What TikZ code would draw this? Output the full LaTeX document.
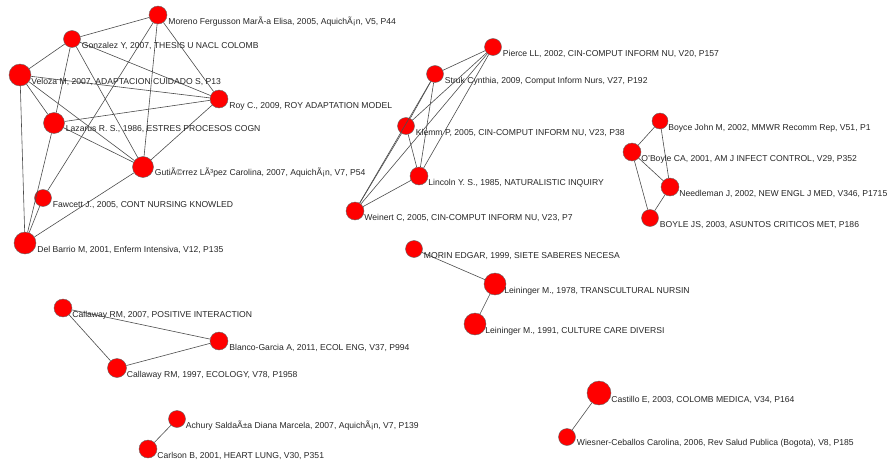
\documentclass[tikz,border=0pt]{standalone}
\usepackage{fontspec}
\setmainfont{Liberation Sans}
\usetikzlibrary{positioning}

\begin{document}
\begin{tikzpicture}[x=1pt,y=1pt,
	paper/.style={circle,fill=red,draw=black!60,line width=0.4pt,minimum size=18pt},
	lbl/.style={anchor=west,font=\fontsize{8.6}{10}\selectfont,text=black!85},
	tie/.style={draw=black!70,line width=0.6pt}]
	\tikzstyle{every node}+=[inner sep=0pt]
	\useasboundingbox (0,0) rectangle (892,-463);
	\node [paper] (moreno) at (158,-15) {};
	\node [paper,minimum size=17pt] (gonzalez) at (72,-39) {};
	\node [paper,minimum size=22pt] (veloza) at (20,-75) {};
	\node [paper] (roy) at (219,-99) {};
	\node [paper,minimum size=21pt] (lazarus) at (54,-123) {};
	\node [paper,minimum size=21pt] (gutierrez) at (143,-167) {};
	\node [paper,minimum size=17pt] (fawcett) at (43,-198) {};
	\node [paper,minimum size=22pt] (delbarrio) at (25,-243) {};
	\node [paper,minimum size=17pt] (pierce) at (493,-47) {};
	\node [paper,minimum size=17pt] (struk) at (435,-74) {};
	\node [paper,minimum size=17pt] (klemm) at (406,-126) {};
	\node [paper] (lincoln) at (419,-176) {};
	\node [paper] (weinert) at (355,-211) {};
	\node [paper,minimum size=17pt] (morin) at (414,-249) {};
	\node [paper,minimum size=22pt] (lein78) at (495,-284) {};
	\node [paper,minimum size=22pt] (lein91) at (475,-324) {};
	\node [paper,minimum size=16pt] (boyce) at (660,-121) {};
	\node [paper] (oboyle) at (632,-152) {};
	\node [paper] (needleman) at (670,-187) {};
	\node [paper,minimum size=17pt] (boyle) at (650,-218) {};
	\node [paper] (callaway07) at (63,-308) {};
	\node [paper] (blanco) at (219,-341) {};
	\node [paper,minimum size=19pt] (callaway97) at (117,-368) {};
	\node [paper,minimum size=17pt] (achury) at (177,-419) {};
	\node [paper] (carlson) at (148,-449) {};
	\node [paper,minimum size=24pt] (castillo) at (599,-393) {};
	\node [paper,minimum size=17pt] (wiesner) at (567,-437) {};
	\draw [tie] (moreno) -- (gonzalez);
	\draw [tie] (moreno) -- (roy);
	\draw [tie] (moreno) -- (gutierrez);
	\draw [tie] (moreno) -- (fawcett);
	\draw [tie] (gonzalez) -- (veloza);
	\draw [tie] (gonzalez) -- (lazarus);
	\draw [tie] (gonzalez) -- (gutierrez);
	\draw [tie] (gonzalez) -- (roy);
	\draw [tie] (veloza) -- (lazarus);
	\draw [tie] (veloza) -- (delbarrio);
	\draw [tie] (veloza) -- (gutierrez);
	\draw [tie] (veloza) -- (roy);
	\draw [tie] (lazarus) -- (roy);
	\draw [tie] (lazarus) -- (gutierrez);
	\draw [tie] (lazarus) -- (delbarrio);
	\draw [tie] (gutierrez) -- (roy);
	\draw [tie] (gutierrez) -- (delbarrio);
	\draw [tie] (fawcett) -- (delbarrio);
	\draw [tie] (pierce) -- (struk);
	\draw [tie] (pierce) -- (klemm);
	\draw [tie] (pierce) -- (lincoln);
	\draw [tie] (pierce) -- (weinert);
	\draw [tie] (struk) -- (klemm);
	\draw [tie] (struk) -- (lincoln);
	\draw [tie] (struk) -- (weinert);
	\draw [tie] (klemm) -- (lincoln);
	\draw [tie] (klemm) -- (weinert);
	\draw [tie] (lincoln) -- (weinert);
	\draw [tie] (morin) -- (lein78);
	\draw [tie] (lein78) -- (lein91);
	\draw [tie] (boyce) -- (oboyle);
	\draw [tie] (boyce) -- (needleman);
	\draw [tie] (oboyle) -- (needleman);
	\draw [tie] (oboyle) -- (boyle);
	\draw [tie] (needleman) -- (boyle);
	\draw [tie] (callaway07) -- (callaway97);
	\draw [tie] (callaway07) -- (blanco);
	\draw [tie] (callaway97) -- (blanco);
	\draw [tie] (achury) -- (carlson);
	\draw [tie] (castillo) -- (wiesner);
	\node [lbl] (moreno-t) at ([shift={(1,-7)}]moreno.east) {Moreno Fergusson MarÃ-a Elisa, 2005, AquichÃ¡n, V5, P44};
	\node [lbl] (gonzalez-t) at ([shift={(1,-7)}]gonzalez.east) {Gonzalez Y, 2007, THESIS U NACL COLOMB};
	\node [lbl] (veloza-t) at ([shift={(0,-7)}]veloza.east) {Veloza M, 2007, ADAPTACION CUIDADO S, P13};
	\node [lbl] (roy-t) at ([shift={(1,-7)}]roy.east) {Roy C., 2009, ROY ADAPTATION MODEL};
	\node [lbl] (lazarus-t) at ([shift={(1,-6)}]lazarus.east) {Lazarus R. S., 1986, ESTRES PROCESOS COGN};
	\node [lbl] (gutierrez-t) at ([shift={(1,-6)}]gutierrez.east) {GutiÃ©rrez LÃ³pez Carolina, 2007, AquichÃ¡n, V7, P54};
	\node [lbl] (fawcett-t) at ([shift={(1,-7)}]fawcett.east) {Fawcett J., 2005, CONT NURSING KNOWLED};
	\node [lbl] (delbarrio-t) at ([shift={(1,-7)}]delbarrio.east) {Del Barrio M, 2001, Enferm Intensiva, V12, P135};
	\node [lbl] (pierce-t) at ([shift={(1,-7)}]pierce.east) {Pierce LL, 2002, CIN-COMPUT INFORM NU, V20, P157};
	\node [lbl] (struk-t) at ([shift={(1,-7)}]struk.east) {Struk Cynthia, 2009, Comput Inform Nurs, V27, P192};
	\node [lbl] (klemm-t) at ([shift={(1,-7)}]klemm.east) {Klemm P, 2005, CIN-COMPUT INFORM NU, V23, P38};
	\node [lbl] (lincoln-t) at ([shift={(0,-7)}]lincoln.east) {Lincoln Y. S., 1985, NATURALISTIC INQUIRY};
	\node [lbl] (weinert-t) at ([shift={(0,-7)}]weinert.east) {Weinert C, 2005, CIN-COMPUT INFORM NU, V23, P7};
	\node [lbl] (morin-t) at ([shift={(1,-7)}]morin.east) {MORIN EDGAR, 1999, SIETE SABERES NECESA};
	\node [lbl] (lein78-t) at ([shift={(-2,-7)}]lein78.east) {Leininger M., 1978, TRANSCULTURAL NURSIN};
	\node [lbl] (lein91-t) at ([shift={(-1,-7)}]lein91.east) {Leininger M., 1991, CULTURE CARE DIVERSI};
	\node [lbl] (boyce-t) at ([shift={(0,-7)}]boyce.east) {Boyce John M, 2002, MMWR Recomm Rep, V51, P1};
	\node [lbl] (oboyle-t) at ([shift={(0,-7)}]oboyle.east) {O'Boyle CA, 2001, AM J INFECT CONTROL, V29, P352};
	\node [lbl] (needleman-t) at ([shift={(0,-7)}]needleman.east) {Needleman J, 2002, NEW ENGL J MED, V346, P1715};
	\node [lbl] (boyle-t) at ([shift={(1,-7)}]boyle.east) {BOYLE JS, 2003, ASUNTOS CRITICOS MET, P186};
	\node [lbl] (callaway07-t) at ([shift={(0,-7)}]callaway07.east) {Callaway RM, 2007, POSITIVE INTERACTION};
	\node [lbl] (blanco-t) at ([shift={(1,-7)}]blanco.east) {Blanco-Garcia A, 2011, ECOL ENG, V37, P994};
	\node [lbl] (callaway97-t) at ([shift={(0,-7)}]callaway97.east) {Callaway RM, 1997, ECOLOGY, V78, P1958};
	\node [lbl] (achury-t) at ([shift={(0,-7)}]achury.east) {Achury SaldaÃ±a Diana Marcela, 2007, AquichÃ¡n, V7, P139};
	\node [lbl] (carlson-t) at ([shift={(0,-7)}]carlson.east) {Carlson B, 2001, HEART LUNG, V30, P351};
	\node [lbl] (castillo-t) at ([shift={(0,-7)}]castillo.east) {Castillo E, 2003, COLOMB MEDICA, V34, P164};
	\node [lbl] (wiesner-t) at ([shift={(1,-6)}]wiesner.east) {Wiesner-Ceballos Carolina, 2006, Rev Salud Publica (Bogota), V8, P185};
\end{tikzpicture}
\end{document}
